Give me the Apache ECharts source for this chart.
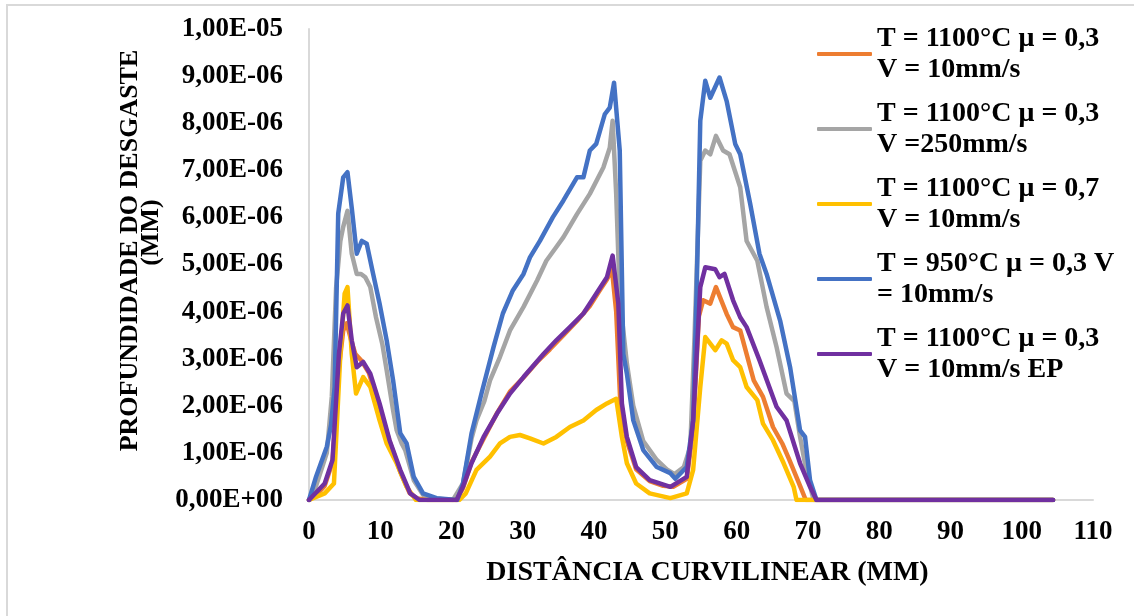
<!DOCTYPE html>
<html>
<head>
<meta charset="utf-8">
<title>Profundidade do desgaste</title>
<script src="https://cdn.jsdelivr.net/npm/echarts@6/dist/echarts.min.js"></script>
<style>
  html, body { margin: 0; padding: 0; background: #fff; }
  #chart { width: 1134px; height: 616px; }
</style>
</head>
<body>
<div id="chart"></div>
<script>
// distancia curvilinear (mm) / profundidade (unidades de 1e-6 mm)
const xOrange = [0, 1, 2.2, 3.3, 4.2, 4.8, 5.3, 5.9, 6.5, 7.4, 8.4, 9.8, 11.3, 12.8, 14.1, 15.2, 16.7, 20.7, 21.6, 22.8, 24.5, 26.4, 28.2, 30.1, 32.0, 33.8, 35.7, 37.6, 39.4, 40.8, 41.8, 42.5, 43.1, 43.7, 44.6, 45.9, 47.8, 49.7, 51.1, 53.0, 53.9, 54.7, 55.3, 56.3, 57.1, 58.6, 59.5, 60.5, 62.4, 63.7, 65.1, 66.4, 67.4, 68.9, 69.7, 104.4];
const yOrange = [0, 0.1, 0.3, 0.8, 2.8, 3.6, 3.75, 3.4, 3.1, 2.95, 2.7, 2.0, 1.25, 0.6, 0.15, 0.03, 0, 0, 0.25, 0.8, 1.3, 1.85, 2.3, 2.6, 2.93, 3.2, 3.5, 3.8, 4.12, 4.45, 4.68, 4.9, 4.0, 2.0, 1.25, 0.65, 0.4, 0.3, 0.28, 0.45, 1.5, 3.9, 4.24, 4.17, 4.52, 3.95, 3.67, 3.6, 2.54, 2.19, 1.55, 1.2, 0.85, 0.3, 0, 0];

const xGray = [0, 1, 2.5, 3.2, 3.8, 4.4, 4.8, 5.4, 6.0, 6.7, 7.3, 7.9, 8.6, 9.4, 10.3, 10.9, 11.8, 12.3, 13.0, 13.5, 14.7, 16.0, 17.7, 20.2, 21.6, 22.8, 23.5, 24.6, 25.4, 26.8, 28.2, 30.1, 32.0, 33.3, 34.6, 35.7, 37.6, 39.4, 41.3, 42.2, 42.6, 43.1, 43.6, 44.6, 45.5, 46.9, 48.8, 50.2, 51.3, 52.6, 53.5, 54.1, 54.9, 55.6, 56.3, 57.1, 58.1, 59.0, 60.5, 61.4, 62.9, 64.2, 65.6, 67.0, 68.1, 68.9, 69.8, 70.8, 104.4];
const yGray = [0, 0.3, 1.0, 2.2, 4.5, 5.5, 5.8, 6.14, 5.23, 4.8, 4.8, 4.73, 4.52, 3.88, 3.3, 2.75, 1.9, 1.48, 1.2, 1.06, 0.42, 0.11, 0.03, 0, 0.35, 1.3, 1.69, 2.1, 2.54, 3.04, 3.6, 4.1, 4.66, 5.08, 5.35, 5.58, 6.07, 6.5, 7.06, 7.48, 8.05, 6.5, 4.3, 2.9, 2.0, 1.25, 0.85, 0.65, 0.55, 0.7, 1.13, 3.5, 7.2, 7.42, 7.34, 7.73, 7.42, 7.34, 6.64, 5.5, 5.08, 4.1, 3.25, 2.26, 2.1, 1.34, 0.6, 0, 0];

const xYellow = [0, 2.2, 3.5, 4.4, 5.0, 5.4, 6.0, 6.6, 7.6, 8.6, 9.9, 10.9, 12.3, 13.7, 15.0, 21.1, 22.0, 23.5, 25.4, 26.8, 28.2, 29.6, 31.0, 32.9, 34.7, 36.6, 38.5, 40.3, 41.8, 43.1, 43.9, 44.6, 45.9, 47.8, 50.7, 53.0, 53.9, 54.9, 55.6, 56.3, 57.0, 57.9, 58.6, 59.5, 60.5, 61.4, 62.9, 63.7, 65.1, 66.6, 68.0, 68.4, 104.4];
const yYellow = [0, 0.14, 0.35, 3.1, 4.38, 4.52, 3.1, 2.26, 2.61, 2.4, 1.69, 1.2, 0.78, 0.28, 0, 0, 0.14, 0.64, 0.92, 1.2, 1.34, 1.38, 1.31, 1.2, 1.34, 1.55, 1.69, 1.91, 2.05, 2.15, 1.34, 0.78, 0.35, 0.14, 0.04, 0.14, 0.64, 2.4, 3.46, 3.32, 3.18, 3.39, 3.32, 2.97, 2.82, 2.4, 2.12, 1.62, 1.27, 0.78, 0.28, 0, 0];

const xBlue = [0, 1, 2.5, 3.1, 3.6, 4.1, 4.8, 5.4, 6.0, 6.7, 7.4, 8.1, 9.0, 9.9, 10.9, 11.8, 12.8, 13.7, 14.7, 16.0, 17.9, 20.8, 21.6, 22.8, 24.2, 25.9, 27.2, 28.6, 30.1, 31.0, 32.4, 34.2, 35.7, 37.6, 38.5, 39.4, 40.3, 41.5, 42.2, 42.8, 43.6, 44.1, 44.6, 45.5, 46.9, 48.8, 50.7, 51.4, 53.0, 53.9, 54.4, 54.9, 55.6, 56.3, 57.6, 58.6, 59.8, 60.5, 61.9, 63.2, 64.2, 66.1, 67.5, 68.9, 69.6, 70.3, 71.2, 104.4];
const yBlue = [0, 0.5, 1.13, 1.6, 2.4, 6.08, 6.85, 6.96, 6.2, 5.23, 5.5, 5.44, 4.8, 4.17, 3.39, 2.54, 1.42, 1.2, 0.49, 0.14, 0.04, 0, 0.35, 1.41, 2.26, 3.25, 3.96, 4.45, 4.8, 5.15, 5.5, 6.0, 6.36, 6.85, 6.85, 7.42, 7.56, 8.19, 8.33, 8.86, 7.42, 3.1, 2.68, 1.69, 1.06, 0.7, 0.57, 0.45, 0.7, 1.69, 4.52, 8.05, 8.9, 8.54, 8.97, 8.47, 7.56, 7.34, 6.29, 5.23, 4.8, 3.81, 2.82, 1.48, 1.34, 0.42, 0, 0];

const xPurple = [0, 2.2, 3.3, 4.2, 4.8, 5.4, 6.0, 6.7, 7.6, 8.6, 9.9, 11.3, 12.8, 14.2, 15.5, 20.7, 21.6, 22.8, 24.5, 26.4, 28.2, 30.1, 32.9, 34.7, 36.6, 38.5, 40.3, 41.8, 42.6, 43.4, 43.9, 44.6, 45.9, 47.8, 50.7, 53.0, 53.9, 54.9, 55.6, 57.0, 57.6, 58.3, 59.5, 60.5, 61.4, 63.2, 65.6, 67.0, 68.9, 70.3, 71.2, 104.4];
const yPurple = [0, 0.35, 0.85, 3.1, 3.96, 4.13, 3.39, 2.82, 2.93, 2.68, 2.05, 1.27, 0.64, 0.14, 0, 0, 0.28, 0.78, 1.34, 1.84, 2.26, 2.61, 3.1, 3.39, 3.67, 3.96, 4.38, 4.73, 5.19, 4.17, 2.05, 1.34, 0.7, 0.42, 0.28, 0.49, 1.69, 4.52, 4.94, 4.9, 4.73, 4.8, 4.24, 3.88, 3.67, 2.97, 1.98, 1.69, 0.78, 0.28, 0, 0];

const seriesNames = [
  'T = 1100°C μ = 0,3\nV = 10mm/s',
  'T = 1100°C μ = 0,3\nV =250mm/s',
  'T = 1100°C μ = 0,7\nV = 10mm/s',
  'T = 950°C μ = 0,3 V\n= 10mm/s',
  'T = 1100°C μ = 0,3\nV = 10mm/s EP'
];
const seriesColors = ['#ED7D31', '#A5A5A5', '#FFC000', '#4472C4', '#7030A0'];
const xLists = [xOrange, xGray, xYellow, xBlue, xPurple];
const yLists = [yOrange, yGray, yYellow, yBlue, yPurple];

const FONT = 'Liberation Serif';

function zip(xs, ys) {
  return xs.map((x, i) => [x, ys[i]]);
}

// 1 -> "1,00E-06"
function sciLabel(v) {
  if (v === 0) return '0,00E+00';
  const real = v * 1e-6;
  let exp = Math.floor(Math.log10(real) + 1e-9);
  const mant = real / Math.pow(10, exp);
  return mant.toFixed(2).replace('.', ',') + 'E' + (exp < 0 ? '-' : '+') + String(Math.abs(exp)).padStart(2, '0');
}

const chart = echarts.init(document.getElementById('chart'));
const option = {
  animation: false,
  backgroundColor: '#fff',
  textStyle: { fontFamily: FONT, fontWeight: 'bold', color: '#000' },
  graphic: [{
    type: 'rect',
    shape: { x: 7, y: 5, width: 1140, height: 640 },
    style: { fill: 'none', stroke: '#d9d9d9', lineWidth: 2 },
    silent: true
  }],
  grid: { left: 309, right: 41, top: 29, bottom: 116 },
  legend: {
    left: 817,
    top: 7.5,
    orient: 'vertical',
    padding: 0,
    itemGap: -18,
    itemWidth: 55,
    itemHeight: 4,
    icon: 'roundRect',
    selectedMode: false,
    textStyle: {
      fontFamily: FONT,
      fontWeight: 'bold',
      fontSize: 28,
      lineHeight: 31,
      color: '#000',
      padding: [31, 0, 0, 0]
    },
    data: seriesNames
  },
  xAxis: {
    type: 'value',
    min: 0,
    max: 110,
    interval: 10,
    name: 'DISTÂNCIA CURVILINEAR (MM)',
    nameLocation: 'middle',
    nameGap: 59,
    nameTextStyle: { fontFamily: FONT, fontWeight: 'bold', fontSize: 28, color: '#000', padding: [0, 0, 0, 13] },
    axisLine: { show: true, lineStyle: { color: '#d9d9d9', width: 2 } },
    axisTick: { show: false },
    splitLine: { show: false },
    axisLabel: { fontFamily: FONT, fontWeight: 'bold', fontSize: 27, color: '#000', margin: 19 }
  },
  yAxis: {
    type: 'value',
    min: 0,
    max: 10,
    interval: 1,
    name: '{a|PROFUNDIDADE DO DESGASTE}\n{b|(MM)}',
    nameLocation: 'middle',
    nameGap: 126,
    nameTextStyle: {
      color: '#000',
      padding: [0, 0, 0, 28],
      rich: {
        a: { fontFamily: FONT, fontWeight: 'bold', fontSize: 26, lineHeight: 21, color: '#000' },
        b: { fontFamily: FONT, fontWeight: 'bold', fontSize: 26, lineHeight: 21, color: '#000', padding: [0, 0, 0, 36] }
      }
    },
    axisLine: { show: true, lineStyle: { color: '#d9d9d9', width: 2 } },
    axisTick: { show: false },
    splitLine: { show: false },
    axisLabel: { fontFamily: FONT, fontWeight: 'bold', fontSize: 27, color: '#000', margin: 26, formatter: sciLabel }
  },
  series: seriesNames.map((name, i) => ({
    name: name,
    type: 'line',
    data: zip(xLists[i], yLists[i]),
    showSymbol: false,
    symbol: 'none',
    color: seriesColors[i],
    lineStyle: { width: 4.5, color: seriesColors[i], cap: 'round', join: 'round' },
    z: 2 + i
  }))
};
chart.setOption(option);
window.addEventListener('resize', () => {
  chart.resize();
});
</script>
</body>
</html>
